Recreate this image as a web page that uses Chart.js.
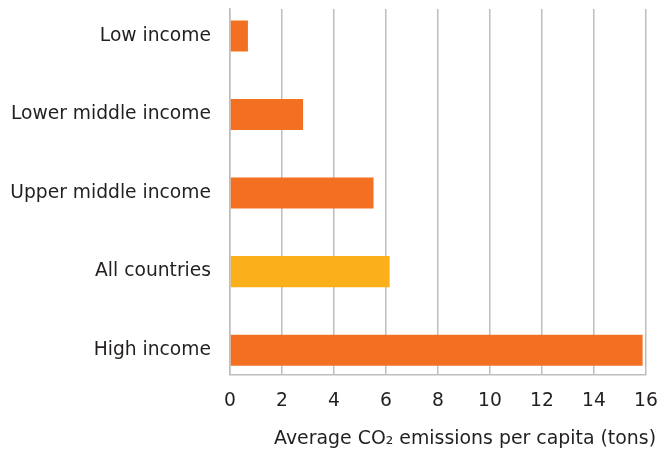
<!DOCTYPE html>
<html>
<head>
<meta charset="utf-8">
<script src="https://cdn.jsdelivr.net/npm/chart.js@4"></script>
<style>
  html, body { margin: 0; padding: 0; background: #fff; }
  #wrap { width: 659px; height: 452px; }
</style>
</head>
<body>
<div id="wrap"><canvas id="co2Chart"></canvas></div>
<script>
// Data
const categories = ['Low income', 'Lower middle income', 'Upper middle income', 'All countries', 'High income'];
const emissions = [0.69, 2.81, 5.52, 6.14, 15.87];
const xTicks = [0, 2, 4, 6, 8, 10, 12, 14, 16];

const orange = '#f37022';
const yellow = '#fbb019';
const gridGray = '#bdbdbd';
const textColor = '#231f20';
const fontFamily = '"DejaVu Sans", sans-serif';

const ctx = document.getElementById('co2Chart').getContext('2d');

new Chart(ctx, {
  type: 'bar',
  data: {
    datasets: [{
      data: emissions.map((v, i) => ({ x: v, y: i })),
      backgroundColor: categories.map(c => c === 'All countries' ? yellow : orange),
      barPercentage: 0.395,
      categoryPercentage: 1
    }]
  },
  options: {
    indexAxis: 'y',
    responsive: true,
    maintainAspectRatio: false,
    animation: false,
    layout: { padding: { top: 9, left: 0, right: 3, bottom: 0 } },
    plugins: {
      legend: { display: false },
      tooltip: { enabled: false },
      title: {
        display: true,
        text: 'Average CO\u2082 emissions per capita (tons)',
        position: 'bottom',
        align: 'end',
        color: textColor,
        font: { family: fontFamily, size: 18.9, weight: 'normal' },
        padding: { top: 10, bottom: 2 }
      }
    },
    scales: {
      x: {
        type: 'linear',
        min: 0,
        max: 16,
        afterBuildTicks: axis => { axis.ticks = xTicks.map(v => ({ value: v })); },
        afterFit: axis => {
          axis.height = 43;
          axis.paddingLeft = 0;
          axis.paddingRight = 13;
        },
        grid: { color: gridGray, lineWidth: 1.5, drawTicks: false },
        border: { color: gridGray, width: 1.5 },
        ticks: {
          color: textColor,
          padding: 16,
          maxRotation: 0,
          font: { family: fontFamily, size: 18.7 }
        }
      },
      y: {
        type: 'linear',
        reverse: true,
        offset: false,
        min: -0.343,
        max: 4.307,
        afterBuildTicks: axis => { axis.ticks = categories.map((c, i) => ({ value: i })); },
        afterFit: axis => {
          axis.width = 230;
          axis.paddingTop = 0;
          axis.paddingBottom = 0;
        },
        grid: { display: false, drawTicks: false },
        border: { display: true, color: gridGray, width: 1.5 },
        ticks: {
          color: textColor,
          padding: 19,
          autoSkip: false,
          callback: v => categories[v],
          font: { family: fontFamily, size: 18.7 }
        }
      }
    }
  }
});
</script>
</body>
</html>
